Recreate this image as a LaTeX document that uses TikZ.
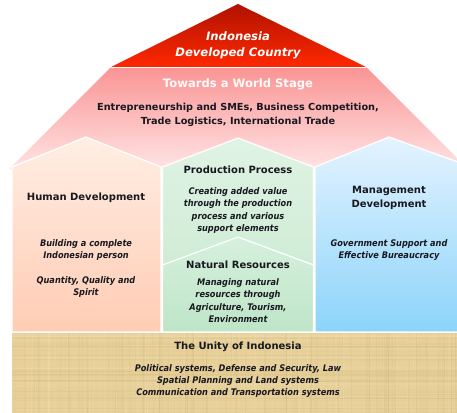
\documentclass[tikz,border=0pt]{standalone}
\usepackage{fontspec}
\setmainfont{DejaVu Sans}
\newfontfamily\condfont{DejaVu Sans Condensed}
\definecolor{redtop}{RGB}{176,18,0}
\definecolor{redbot}{RGB}{255,40,0}
\definecolor{pinktop}{RGB}{250,148,148}
\definecolor{pinkbot}{RGB}{255,228,228}
\definecolor{peachtop}{RGB}{255,238,228}
\definecolor{peachbot}{RGB}{255,204,180}
\definecolor{greentop}{RGB}{224,243,228}
\definecolor{greenbot}{RGB}{198,232,206}
\definecolor{green2top}{RGB}{214,240,220}
\definecolor{green2bot}{RGB}{190,229,200}
\definecolor{bluetop}{RGB}{228,243,255}
\definecolor{bluebot}{RGB}{140,212,250}
\definecolor{tan}{RGB}{231,208,153}
\definecolor{tanlight}{RGB}{244,228,186}
\definecolor{tandark}{RGB}{208,180,122}
\definecolor{ink}{RGB}{24,24,32}
\begin{document}
\begin{tikzpicture}[x=1pt,y=-1pt,
  sep/.style={draw=white,line width=1.2pt,line join=round},
  headline/.style={font=\fontsize{10}{14}\selectfont\bfseries,text=ink,align=center,inner sep=0pt},
  subline/.style={font=\condfont\fontsize{9.1}{12.3}\selectfont\bfseries\itshape,text=ink,align=center,inner sep=0pt}]
\clip (0,0) rectangle (457,412);

% roof: pink trapezoid and red top
\path[top color=pinktop,bottom color=pinkbot] (111,67) -- (366,67) -- (468,169) -- (9,169) -- cycle;
\path[top color=redtop,bottom color=redbot] (238,4) -- (366,67) -- (111,67) -- cycle;
\draw[sep] (111,67.5) -- (366,67.5);

% pillars
\path[top color=peachtop,bottom color=peachbot,sep] (12,167) -- (86,137) -- (161,167) -- (161,332) -- (12,332) -- cycle;
\path[top color=greentop,bottom color=greenbot,sep] (162.5,167) -- (238,138) -- (313.5,167) -- (313.5,332) -- (162.5,332) -- cycle;
\path[top color=green2top,bottom color=green2bot,sep] (162.5,265) -- (238,237) -- (313.5,265) -- (313.5,332) -- (162.5,332) -- cycle;
\path[top color=bluetop,bottom color=bluebot,sep] (315,167) -- (389,137) -- (466,165) -- (466,332) -- (315,332) -- cycle;

% foundation with a woven texture
\fill[tan] (12,332.5) rectangle (470,420);
\begin{scope}
\clip (12,332.5) rectangle (470,420);
\pgfmathsetseed{4217}
\foreach \i in {1,...,220}{
  \pgfmathsetmacro{\xx}{12+445*rnd}
  \pgfmathsetmacro{\ww}{0.3+0.9*rnd}
  \pgfmathsetmacro{\oo}{0.1+0.25*rnd}
  \ifodd\i
    \draw[tanlight,line width=\ww pt,opacity=\oo] (\xx,332) -- (\xx+2*rnd-1,420);
  \else
    \draw[tandark,line width=\ww pt,opacity=\oo] (\xx,332) -- (\xx+2*rnd-1,420);
  \fi
}
\foreach \i in {1,...,80}{
  \pgfmathsetmacro{\yy}{332+80*rnd}
  \pgfmathsetmacro{\ww}{0.3+0.8*rnd}
  \pgfmathsetmacro{\oo}{0.08+0.22*rnd}
  \ifodd\i
    \draw[tanlight,line width=\ww pt,opacity=\oo] (12,\yy) -- (470,\yy+2*rnd-1);
  \else
    \draw[tandark,line width=\ww pt,opacity=\oo] (12,\yy) -- (470,\yy+2*rnd-1);
  \fi
}
\end{scope}
\draw[sep] (12,332.2) -- (470,332.2);

% texts
\node[font=\fontsize{11.6}{16}\selectfont\bfseries\itshape,text=white,align=center,inner sep=0pt] (goal) at (238,45) {Indonesia\\Developed Country};
\node[font=\fontsize{11.6}{13}\selectfont\bfseries,text=white!94!pink,inner sep=0pt] (world) at (238,84) {Towards a World Stage};
\node[headline,font=\fontsize{9.7}{14}\selectfont\bfseries] (trade) at (238,115) {Entrepreneurship and SMEs, Business Competition,\\Trade Logistics, International Trade};

\node[headline] (human) at (86,198) {Human Development};
\node[subline] (humansub) at (86,250) {Building a complete\\Indonesian person};
\node[subline] (humansub2) at (86,287) {Quantity, Quality and\\Spirit};

\node[headline] (prod) at (238,170) {Production Process};
\node[subline] (prodsub) at (238,210.5) {Creating added value\\through the production\\process and various\\support elements};

\node[headline] (nat) at (238,265) {Natural Resources};
\node[subline] (natsub) at (238,300.5) {Managing natural\\resources through\\Agriculture, Tourism,\\Environment};

\node[headline] (mgmt) at (389,198) {Management\\Development};
\node[subline] (mgmtsub) at (389,250) {Government Support and\\Effective Bureaucracy};

\node[headline] (unity) at (238,347) {The Unity of Indonesia};
\node[subline] (unitysub) at (238,381) {Political systems, Defense and Security, Law\\Spatial Planning and Land systems\\Communication and Transportation systems};
\end{tikzpicture}
\end{document}
